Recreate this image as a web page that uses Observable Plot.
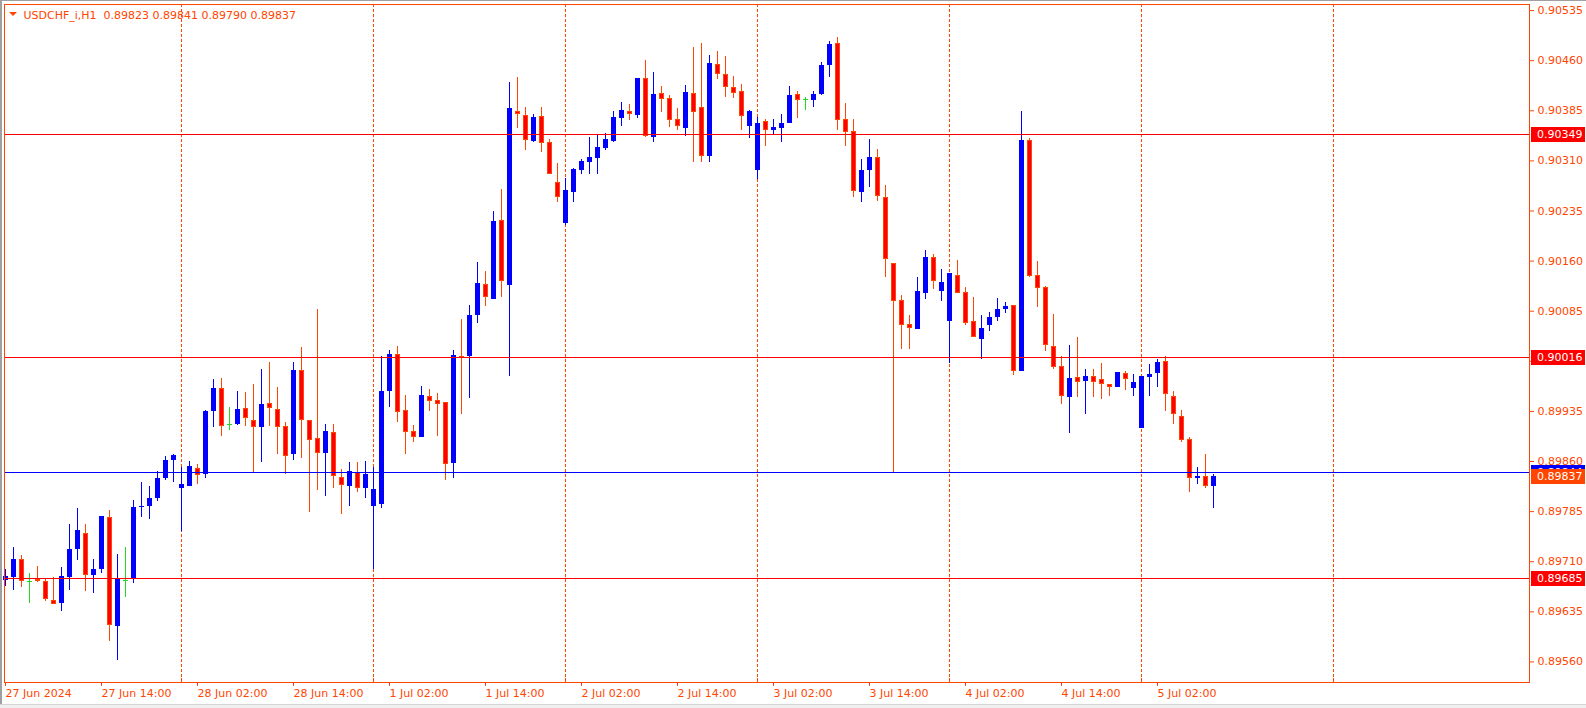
<!DOCTYPE html>
<html>
<head>
<meta charset="utf-8">
<script src="https://cdn.jsdelivr.net/npm/d3@7"></script>
<script src="https://cdn.jsdelivr.net/npm/@observablehq/plot@0.6"></script>
<style>
  html, body { margin: 0; padding: 0; background: #ffffff; }
  #wrap { position: relative; width: 1586px; height: 708px; overflow: hidden; }
  #chart svg { display: block; }
  .edge { position: absolute; pointer-events: none; }
</style>
</head>
<body>
<div id="wrap">
  <div id="chart"></div>
  <div class="edge" style="left:0;top:0;width:2px;height:708px;background:#a0a0a0"></div>
  <div class="edge" style="left:0;top:0;width:1586px;height:1px;background:#a0a0a0"></div>
  <div class="edge" style="left:0;top:704px;width:1586px;height:3px;background:#f0f0f0;border-top:1px solid #d4d4d4"></div>
</div>
<script>
// USDCHF_i H1 candles, prices in units of 0.00001
const openPts = [
89682,89686,89714,89680,89684,89681,89652,89647,89687,89728,89752,89689,89698,89776,89613,89682,89683,89791,89792,89804,89834,89861,
89819,89822,89850,89841,89935,89969,89916,89915,89939,89922,89911,89947,89938,89912,89871,89996,89921,89895,89872,89904,89836,89823,89844,89819,
89792,89796,89965,90020,89936,89905,89896,89957,89951,89948,89857,90017,90017,90078,90125,90103,90221,90124,90384,90378,90339,90377,90338,90278,
90217,90262,90296,90308,90314,90329,90339,90374,90384,90378,90433,90345,90411,90403,90372,90359,90411,90390,90317,90454,90439,90420,90414,90361,
90295,90369,90356,90359,90366,90409,90402,90400,90409,90453,90486,90372,90354,90263,90296,90315,90255,90156,90101,90065,90058,90111,90166,90115,
90070,90138,90113,90070,90043,90063,90076,90088,90094,89994,90341,90138,90121,90032,90002,89956,89986,89980,89987,89983,89975,89971,89992,89970,
89910,89986,89992,90010,89957,89928,89893,89834,89837,89823];
const highPts = [
89699,89732,89720,89693,89703,89684,89686,89702,89765,89789,89765,89714,89777,89787,89721,89732,89802,89829,89822,89845,89868,89870,
89851,89860,89856,89936,89983,89984,89941,89965,89963,89975,89998,90008,89971,89918,90008,90031,89922,90088,89915,89915,89848,89859,89859,89860,
89851,90017,90026,90032,89959,89914,89973,89968,89962,89948,90026,90073,90094,90158,90145,90234,90267,90427,90435,90390,90380,90390,90342,90306,
90284,90299,90312,90345,90348,90351,90384,90397,90394,90433,90460,90442,90421,90408,90388,90423,90480,90486,90468,90474,90466,90436,90424,90385,
90375,90372,90372,90380,90421,90414,90405,90414,90457,90489,90495,90396,90372,90312,90342,90327,90273,90156,90108,90078,90135,90176,90170,90147,
90141,90161,90121,90106,90079,90083,90104,90098,90094,90384,90344,90159,90122,90080,90017,90034,90046,89998,89997,90007,89975,89993,89995,89990,
89987,90005,90013,90017,89965,89936,89896,89851,89870,89841];
const lowPts = [
89673,89667,89671,89648,89679,89651,89646,89636,89667,89712,89665,89662,89692,89591,89562,89657,89677,89776,89773,89800,89831,89828,
89755,89822,89825,89835,89911,89897,89907,89914,89913,89844,89859,89913,89871,89840,89862,89865,89783,89817,89808,89819,89781,89793,89814,89805,
89698,89790,89941,89919,89871,89889,89896,89935,89898,89832,89834,89931,89955,90066,90092,90103,90105,89988,90359,90326,90338,90323,90290,90247,
90213,90248,90289,90289,90289,90325,90338,90361,90370,90373,90345,90338,90382,90360,90355,90347,90307,90308,90308,90432,90405,90403,90355,90344,
90282,90332,90348,90338,90366,90374,90385,90390,90408,90435,90356,90332,90255,90248,90270,90249,90136,89843,90027,90028,90058,90102,90117,90100,
90007,90111,90064,90045,90013,90054,90070,90082,89989,89994,90136,90091,90025,89998,89946,89902,89956,89931,89956,89953,89958,89971,89967,89958,
89910,89958,89971,89935,89915,89889,89813,89826,89820,89790];
const closePts = [
89688,89714,89681,89680,89680,89654,89646,89688,89729,89756,89690,89699,89777,89615,89684,89682,89791,89793,89805,89835,89862,89869,
89826,89852,89839,89935,89969,89913,89916,89938,89924,89911,89945,89939,89911,89868,89996,89921,89892,89872,89905,89837,89824,89845,89819,89841,
89818,89965,90020,89934,89904,89896,89959,89950,89946,89856,90019,90014,90079,90127,90105,90219,90129,90388,90379,90341,90375,90336,90290,90255,
90266,90297,90309,90315,90330,90342,90375,90385,90380,90433,90347,90409,90402,90371,90362,90412,90383,90316,90456,90440,90420,90411,90376,90384,
90366,90355,90360,90366,90408,90400,90402,90409,90453,90484,90371,90353,90264,90296,90315,90256,90163,90099,90063,90059,90114,90165,90130,90128,
90141,90111,90067,90045,90059,90076,90088,90092,89994,90340,90137,90119,90033,90000,89957,89984,89979,89987,89979,89976,89971,89993,89983,89978,
89987,89990,90008,89960,89930,89892,89834,89838,89823,89837];

// time axis (bar index of each label) and day separators
const xTickBars = [0, 12, 24, 36, 48, 60, 72, 84, 96, 108, 120, 132, 144];
const xTickLabels = ["27 Jun 2024", "27 Jun 14:00", "28 Jun 02:00", "28 Jun 14:00", "1 Jul 02:00", "1 Jul 14:00",
  "2 Jul 02:00", "2 Jul 14:00", "3 Jul 02:00", "3 Jul 14:00", "4 Jul 02:00", "4 Jul 14:00", "5 Jul 02:00"];
const separatorBars = [22, 46, 70, 94, 118, 142, 166];

// price axis
const yTicks = [0.89560, 0.89635, 0.89710, 0.89785, 0.89860, 0.89935, 0.90010, 0.90085, 0.90160, 0.90235, 0.90310, 0.90385, 0.90460, 0.90535];
const redLevels = [0.90349, 0.90016, 0.89685];
const blueLevels = [0.89844];
const tagPrices = [0.90349, 0.90016, 0.89685, 0.89844, 0.89837];
const tagLabels = ["0.90349", "0.90016", "0.89685", "0.89844", "0.89837"];
const tagColors = ["#ff0000", "#ff0000", "#ff0000", "#0000ff", "#ff4500"];

const titleSymbol = "USDCHF_i,H1";
const titleOHLC = ["0.89823", "0.89841", "0.89790", "0.89837"];

// ---------- build ----------
const candles = openPts.map((o, i) => ({
  i, open: o / 1e5, high: highPts[i] / 1e5, low: lowPts[i] / 1e5, close: closePts[i] / 1e5
}));
const isBull = d => d.close > d.open;
const isBear = d => d.close < d.open;
const isDoji = d => d.close === d.open;

const ORANGE = "#ff4500", RED = "#ff0000", BLUE = "#0000ff", GREEN = "#22d822";
const labelByBar = new Map(xTickBars.map((b, k) => [b, xTickLabels[k]]));
const yDomain = [0.895292, 0.905441];
const crisp = {shapeRendering: "crispEdges"};

const tagMark = (index, scales, values, dimensions) => {
  const g = d3.create("svg:g").attr("text-anchor", "start");
  const x0 = dimensions.width - dimensions.marginRight + 2;
  tagPrices.forEach((p, k) => {
    const y = Math.round(scales.y(p));
    g.append("rect").attr("x", x0).attr("y", y - 7).attr("width", 54).attr("height", 15).attr("fill", tagColors[k]);
    g.append("text").attr("x", x0 + 6).attr("y", y + 0.5).attr("dy", "0.36em")
      .attr("text-anchor", "start")
      .attr("fill", "#ffffff").attr("font-size", 11).attr("font-family", "'DejaVu Sans', sans-serif")
      .text(tagLabels[k]);
  });
  // small drop-down triangle before the title
  g.append("path").attr("d", "M9,12L17,12L13,16Z").attr("fill", ORANGE);
  return g.node();
};

const chart = Plot.plot({
  width: 1586,
  height: 708,
  marginLeft: 4,
  marginRight: 57,
  marginTop: 4,
  marginBottom: 26,
  style: {background: "#ffffff", color: ORANGE, fontFamily: "'DejaVu Sans', sans-serif", fontSize: "11px", overflow: "visible"},
  x: {domain: [-0.125, 190.5]},
  y: {domain: yDomain},
  marks: [
    Plot.ruleX(separatorBars, {stroke: ORANGE, strokeDasharray: "3,2", ...crisp}),
    Plot.ruleX(separatorBars, {y1: yDomain[0], y2: yDomain[0] + 0.00006, stroke: ORANGE, ...crisp}),
    // wicks
    Plot.ruleX(candles, {filter: isBull, x: "i", y1: "low", y2: "high", stroke: BLUE, ...crisp}),
    Plot.ruleX(candles, {filter: isBear, x: "i", y1: "low", y2: "high", stroke: ORANGE, ...crisp}),
    Plot.ruleX(candles, {filter: isDoji, x: "i", y1: "low", y2: "high", stroke: GREEN, ...crisp}),
    // bodies
    Plot.ruleX(candles, {filter: isBull, x: "i", y1: "close", y2: "open", stroke: BLUE, strokeWidth: 5, ...crisp}),
    Plot.ruleX(candles, {filter: isBear, x: "i", y1: "open", y2: "close", stroke: ORANGE, strokeWidth: 5, ...crisp}),
    Plot.ruleX(candles, {filter: d => d.open - d.close > 0.000035, x: "i", y1: "open", y2: "close", stroke: RED, strokeWidth: 3, insetTop: 1, insetBottom: 1, ...crisp}),
    Plot.ruleY(candles, {filter: isDoji, y: "open", x1: d => d.i - 0.3125, x2: d => d.i + 0.3125, stroke: GREEN, ...crisp}),
    // horizontal levels
    Plot.ruleY(redLevels, {stroke: RED, ...crisp}),
    Plot.ruleY(blueLevels, {stroke: BLUE, ...crisp}),
    Plot.frame({stroke: ORANGE, ...crisp}),
    Plot.axisY(yTicks, {anchor: "right", tickSize: 4, tickPadding: 4, tickFormat: d => d.toFixed(5), label: null, fill: ORANGE, stroke: ORANGE}),
    Plot.axisX(xTickBars, {anchor: "bottom", tickSize: 4, tickPadding: 3, tickFormat: d => labelByBar.get(d), textAnchor: "start", label: null, fill: ORANGE, stroke: ORANGE}),
    Plot.text([titleSymbol + "\u00a0\u00a0" + titleOHLC.join(" ")], {frameAnchor: "top-left", dx: 19, dy: 6.5, lineAnchor: "top", textAnchor: "start", fill: ORANGE, fontSize: 11}),
    tagMark
  ]
});
document.getElementById("chart").appendChild(chart);
</script>
</body>
</html>
